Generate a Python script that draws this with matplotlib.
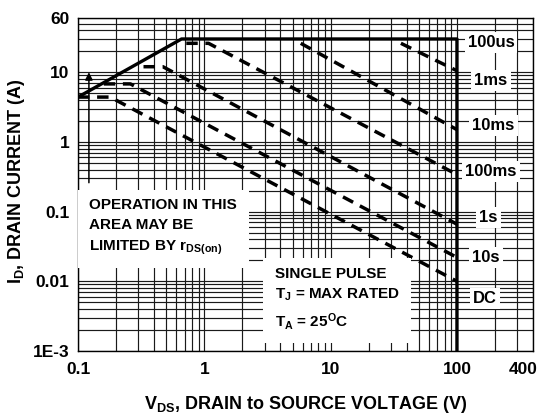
import matplotlib
matplotlib.use('Agg')
import matplotlib.pyplot as plt
import matplotlib.transforms as mtransforms
from matplotlib.ticker import FixedLocator, LogLocator, NullFormatter

plt.rcParams['font.family'] = ['Liberation Sans', 'DejaVu Sans']
plt.rcParams['font.weight'] = 'bold'
plt.rcParams['mathtext.fontset'] = 'custom'
plt.rcParams['mathtext.rm'] = 'Liberation Sans:bold'
plt.rcParams['mathtext.it'] = 'Liberation Sans:bold'
plt.rcParams['mathtext.bf'] = 'Liberation Sans:bold'

# --- data ---
# outer limit: rDS(on) line, 30 A current limit, 100 V breakdown
limit_v = [0.1, 0.66, 100, 100]
limit_i = [4.4, 30, 30, 1e-3]

# pulse curves (dashed)
pulse_names = ['1ms', '10ms', '100ms', '1s', '10s', 'DC']
pulse_v = [
    [36, 100],
    [5.8, 100],
    [0.72, 1.08, 100],
    [0.33, 0.47, 100],
    [0.16, 0.26, 100],
    [0.1, 0.18, 100],
]
pulse_i = [
    [26, 10.5],
    [26, 1.5],
    [26, 26, 0.34],
    [12, 12, 0.066],
    [6.8, 6.8, 0.022],
    [4.4, 4.4, 0.01],
]

# right-hand labels and where they sit
label_text = ['100us', '1ms', '10ms', '100ms', '1s', '10s', 'DC']
label_v = [186, 186, 195, 186, 178, 170, 167]
label_i = [26.5, 7.6, 1.72, 0.38, 0.081, 0.022, 0.0056]

x_ticks = [0.1, 1, 10, 100, 400]
x_ticklabels = ['0.1', '1', '10', '100', '400']
y_ticks = [1e-3, 0.01, 0.1, 1, 10, 60]
y_ticklabels = ['1E-3', '0.01', '0.1', '1', '10', '60']

fig = plt.figure(figsize=(5.37, 4.15), dpi=100)
ax = fig.add_axes([78 / 537, 1 - 351 / 415, 455 / 537, 333 / 415])
ax.set_xscale('log')
ax.set_yscale('log')
ax.set_xlim(0.1, 400)
ax.set_ylim(1e-3, 60)

ax.xaxis.set_major_locator(FixedLocator(x_ticks))
ax.set_xticklabels(x_ticklabels)
ax.xaxis.set_minor_locator(LogLocator(base=10, subs=range(2, 10)))
ax.xaxis.set_minor_formatter(NullFormatter())
ax.yaxis.set_major_locator(FixedLocator(y_ticks))
ax.set_yticklabels(y_ticklabels)
ax.yaxis.set_minor_locator(LogLocator(base=10, subs=range(2, 10)))
ax.yaxis.set_minor_formatter(NullFormatter())

ax.tick_params(which='both', length=0, labelsize=12.5)
ax.tick_params(axis='x', pad=8)
ax.tick_params(axis='y', pad=6)
ax.grid(True, which='both', color='#1a1a1a', lw=0.85, zorder=0)
ax.set_axisbelow(True)
for s in ax.spines.values():
    s.set_linewidth(1.0)

# 400 label shifted left so it stays inside the image
lbl400 = ax.get_xticklabels()[-1]
lbl400.set_transform(lbl400.get_transform() + mtransforms.ScaledTranslation(-10 / 100, 0, fig.dpi_scale_trans))

# lines
ax.plot(limit_v, limit_i, color='k', lw=2.4, solid_capstyle='butt', zorder=4)
for v, i in zip(pulse_v, pulse_i):
    ax.plot(v, i, color='k', lw=2.5, dashes=(3.3, 2.2), dash_capstyle='butt', zorder=4)

# arrow
ax.annotate('', xy=(0.122, 10), xytext=(0.122, 0.26),
            arrowprops=dict(arrowstyle='-|>', color='k', lw=1.1, mutation_scale=11,
                            shrinkA=0, shrinkB=0), zorder=4)

# right side labels
for t, v, i in zip(label_text, label_v, label_i):
    ax.text(v, i, t, fontsize=12, ha='center', va='center', zorder=6,
            bbox=dict(boxstyle='square,pad=0.18', fc='white', ec='none'))

# info boxes
ax.text(0.123, 0.06, 'OPERATION IN THIS\nAREA MAY BE\nLIMITED BY r$_{\\mathrm{DS(on)}}$',
        fontsize=11, ha='left', va='center', linespacing=1.55, zorder=6,
        bbox=dict(boxstyle='square,pad=0.75', fc='white', ec='none'))
ax.text(3.6, 0.0055, 'SINGLE PULSE\nT$_\\mathrm{J}$ = MAX RATED\nT$_\\mathrm{A}$ = 25$^\\mathrm{O}$C',
        fontsize=11, ha='left', va='center', linespacing=1.5, zorder=6,
        bbox=dict(boxstyle='square,pad=0.75', fc='white', ec='none'))

ax.set_xlabel('V$_{\\mathrm{DS}}$, DRAIN to SOURCE VOLTAGE (V)', fontsize=13, fontweight='bold')
ax.set_ylabel('I$_{\\mathrm{D}}$, DRAIN CURRENT (A)', fontsize=13, fontweight='bold')
ax.xaxis.set_label_coords(0.5, -0.13)
ax.yaxis.set_label_coords(-0.112, 0.51)

fig.savefig('out.png', dpi=100)
